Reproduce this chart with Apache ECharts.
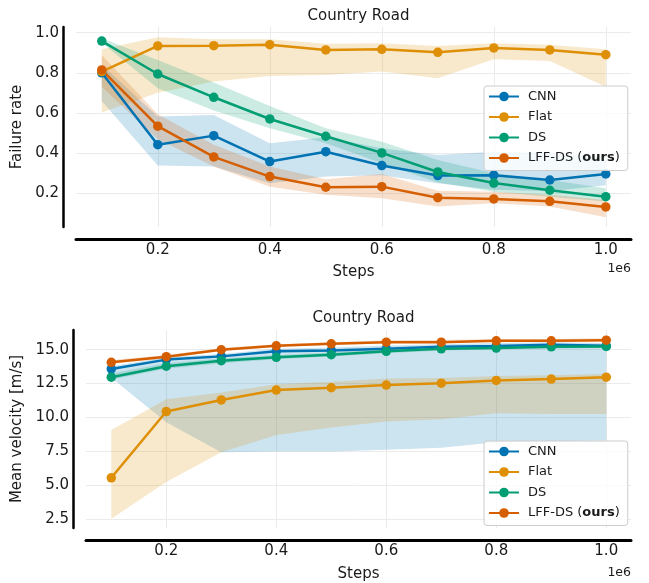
<!DOCTYPE html>
<html>
<head>
<meta charset="utf-8">
<script src="https://cdn.jsdelivr.net/npm/echarts@6/dist/echarts.min.js"></script>
<style>
  html,body{margin:0;padding:0;background:#fff;}
  #chart{width:649px;height:583px;}
</style>
</head>
<body>
<div id="chart"></div>
<script>
// steps, in units of 1e6
const steps = [0.1,0.2,0.3,0.4,0.5,0.6,0.7,0.8,0.9,1.0];
const stepTicks = [0.2,0.4,0.6,0.8,1.0];
const failTicks = [0.2,0.4,0.6,0.8,1.0];
const velTicks = [2.5,5.0,7.5,10.0,12.5,15.0];
const methods = ['CNN','Flat','DS','LFF-DS'];

// failure rate (mean, lower, upper)
const failCnn   = [0.800,0.442,0.487,0.358,0.407,0.338,0.288,0.290,0.266,0.296];
const failCnnLo = [0.660,0.338,0.333,0.250,0.283,0.290,0.250,0.217,0.210,0.240];
const failCnnHi = [0.840,0.582,0.590,0.449,0.479,0.424,0.390,0.407,0.400,0.383];
const failFlat   = [0.806,0.934,0.935,0.940,0.914,0.917,0.902,0.924,0.914,0.890];
const failFlatLo = [0.602,0.701,0.756,0.784,0.789,0.806,0.773,0.867,0.859,0.731];
const failFlatHi = [0.917,0.977,0.967,0.967,0.944,0.947,0.934,0.947,0.939,0.917];
const failDs   = [0.958,0.794,0.678,0.570,0.484,0.401,0.306,0.251,0.215,0.183];
const failDsLo = [0.950,0.723,0.612,0.524,0.449,0.349,0.253,0.208,0.183,0.159];
const failDsHi = [0.972,0.864,0.751,0.635,0.524,0.457,0.366,0.300,0.266,0.225];
const failLff   = [0.814,0.534,0.381,0.283,0.230,0.233,0.178,0.172,0.160,0.132];
const failLffLo = [0.730,0.469,0.333,0.233,0.192,0.175,0.134,0.150,0.134,0.081];
const failLffHi = [0.889,0.593,0.441,0.333,0.270,0.296,0.213,0.208,0.192,0.167];

// mean velocity [m/s] (mean, lower, upper)
const velCnn   = [13.58,14.27,14.51,14.88,14.95,15.07,15.22,15.27,15.37,15.29];
const velCnnLo = [12.93,9.63,7.43,7.48,7.48,7.60,7.75,8.16,8.24,8.29];
const velCnnHi = [13.78,14.44,14.68,15.07,15.17,15.32,15.41,15.49,15.56,15.49];
const velFlat   = [5.53,10.43,11.29,12.02,12.19,12.39,12.53,12.73,12.83,12.97];
const velFlatLo = [2.50,5.23,7.43,8.70,9.26,9.70,9.87,10.31,10.24,10.24];
const velFlatHi = [9.07,11.34,11.83,12.44,12.63,12.88,12.92,13.05,13.12,13.22];
const velDs   = [12.97,13.78,14.19,14.44,14.63,14.88,15.07,15.12,15.22,15.24];
const velDsLo = [12.80,13.60,14.00,14.30,14.50,14.75,14.95,15.02,15.10,15.12];
const velDsHi = [13.25,14.00,14.35,14.60,14.80,15.05,15.22,15.30,15.35,15.38];
const velLff   = [14.07,14.49,15.00,15.29,15.44,15.56,15.56,15.66,15.66,15.71];
const velLffLo = [13.95,14.38,14.90,15.20,15.35,15.50,15.50,15.60,15.60,15.63];
const velLffHi = [14.25,14.62,15.12,15.40,15.55,15.70,15.72,15.80,15.80,15.85];

const colors = ['#0173b2','#de8f05','#029e73','#d55e00'];
const bandColors = ['rgba(1,115,178,0.2)','rgba(222,143,5,0.2)','rgba(2,158,115,0.2)','rgba(213,94,0,0.2)'];
const FONT = 'DejaVu Sans';
const TXT = '#1a1a1a';

function bandSeries(idx, lo, hi, fill){
    return {
        type:'custom', xAxisIndex:idx, yAxisIndex:idx, silent:true, z:1,
        data: steps.map((s,i)=>[s, lo[i], hi[i]]),
        encode:{x:0, y:[1,2]},
        renderItem:(params, api)=>{
            if(params.dataIndex!==0) return null;
            const pts=[];
            for(let i=0;i<steps.length;i++) pts.push(api.coord([steps[i], hi[i]]));
            for(let i=steps.length-1;i>=0;i--) pts.push(api.coord([steps[i], lo[i]]));
            return {type:'polygon', shape:{points:pts}, style:{fill:fill}};
        }
    };
}

function lineSeries(idx, name, vals, color){
    return {
        type:'line', name:name, xAxisIndex:idx, yAxisIndex:idx, z:2,
        data: steps.map((s,i)=>[s, vals[i]]),
        symbol:'circle', symbolSize:9.5, showSymbol:true,
        lineStyle:{color:color, width:2.5},
        itemStyle:{color:color},
        emphasis:{disabled:true}
    };
}

function xAxisOpt(idx, gap){
    return {
        gridIndex:idx, type:'value', min:0.054, max:1.045, offset:12,
        axisLine:{show:true, onZero:false, lineStyle:{color:'#000', width:3}},
        axisTick:{show:false, customValues:stepTicks},
        axisLabel:{customValues:stepTicks, formatter:v=>v.toFixed(1), color:TXT, fontSize:15, fontFamily:FONT, margin:4},
        splitLine:{show:true, lineStyle:{color:'#ebebeb', width:1}},
        name:'Steps', nameLocation:'middle', nameGap:gap,
        nameTextStyle:{color:TXT, fontSize:15, fontFamily:FONT}
    };
}

function yAxisOpt(idx, min, max, ticks, name, gap){
    return {
        gridIndex:idx, type:'value', min:min, max:max, offset:13,
        axisLine:{show:true, onZero:false, lineStyle:{color:'#000', width:2.5}},
        axisTick:{show:false, customValues:ticks},
        axisLabel:{customValues:ticks, formatter:v=>v.toFixed(1), color:TXT, fontSize:15, fontFamily:FONT, margin:4},
        splitLine:{show:true, lineStyle:{color:'#ebebeb', width:1}},
        name:name, nameLocation:'middle', nameGap:gap,
        nameTextStyle:{color:TXT, fontSize:15, fontFamily:FONT}
    };
}

function legendOpt(top){
    return {
        orient:'vertical', left:484, top:top, data:methods,
        itemWidth:30, itemHeight:12, itemGap:7.5,
        padding:[4,8,6,4],
        backgroundColor:'rgba(255,255,255,0.8)', borderColor:'#cccccc', borderWidth:1, borderRadius:3,
        selectedMode:false,
        formatter:n=> n==='LFF-DS' ? '{n|LFF-DS (}{b|ours}{n|)}' : '{n|'+n+'}',
        textStyle:{color:TXT, fontSize:13, fontFamily:FONT, padding:[0,0,0,4],
            rich:{n:{color:TXT, fontSize:13, fontFamily:FONT},
                  b:{color:TXT, fontSize:13, fontFamily:FONT, fontWeight:'bold'}}}
    };
}

const chart = echarts.init(document.getElementById('chart'), null, {renderer:'canvas'});

const series = [
    bandSeries(0, failCnnLo, failCnnHi, bandColors[0]),
    bandSeries(0, failFlatLo, failFlatHi, bandColors[1]),
    bandSeries(0, failDsLo, failDsHi, bandColors[2]),
    bandSeries(0, failLffLo, failLffHi, bandColors[3]),
    lineSeries(0, 'CNN', failCnn, colors[0]),
    lineSeries(0, 'Flat', failFlat, colors[1]),
    lineSeries(0, 'DS', failDs, colors[2]),
    lineSeries(0, 'LFF-DS', failLff, colors[3]),
    bandSeries(1, velCnnLo, velCnnHi, bandColors[0]),
    bandSeries(1, velFlatLo, velFlatHi, bandColors[1]),
    bandSeries(1, velDsLo, velDsHi, bandColors[2]),
    bandSeries(1, velLffLo, velLffHi, bandColors[3]),
    lineSeries(1, 'CNN', velCnn, colors[0]),
    lineSeries(1, 'Flat', velFlat, colors[1]),
    lineSeries(1, 'DS', velDs, colors[2]),
    lineSeries(1, 'LFF-DS', velLff, colors[3])
];

chart.setOption({
    animation:false,
    backgroundColor:'#fff',
    title:[
        {text:'Country Road', left:353.5, top:4, textAlign:'center',
         textStyle:{fontSize:15, fontWeight:'normal', color:TXT, fontFamily:FONT}},
        {text:'Country Road', left:358.5, top:306, textAlign:'center',
         textStyle:{fontSize:15, fontWeight:'normal', color:TXT, fontFamily:FONT}}
    ],
    grid:[
        {left:76, top:27, width:555, height:200},
        {left:86, top:330, width:545, height:200}
    ],
    xAxis:[xAxisOpt(0, 26), xAxisOpt(1, 27)],
    yAxis:[
        yAxisOpt(0, 0.032, 1.028, failTicks, 'Failure rate', 30),
        yAxisOpt(1, 1.82, 16.46, velTicks, 'Mean velocity [m/s]', 40)
    ],
    legend:[legendOpt(86), legendOpt(441)],
    graphic:[
        {type:'text', right:18, top:262, style:{text:'1e6', font:'12.5px "DejaVu Sans"', fill:TXT}},
        {type:'text', right:18, top:566, style:{text:'1e6', font:'12.5px "DejaVu Sans"', fill:TXT}}
    ],
    series:series
});
</script>
</body>
</html>
